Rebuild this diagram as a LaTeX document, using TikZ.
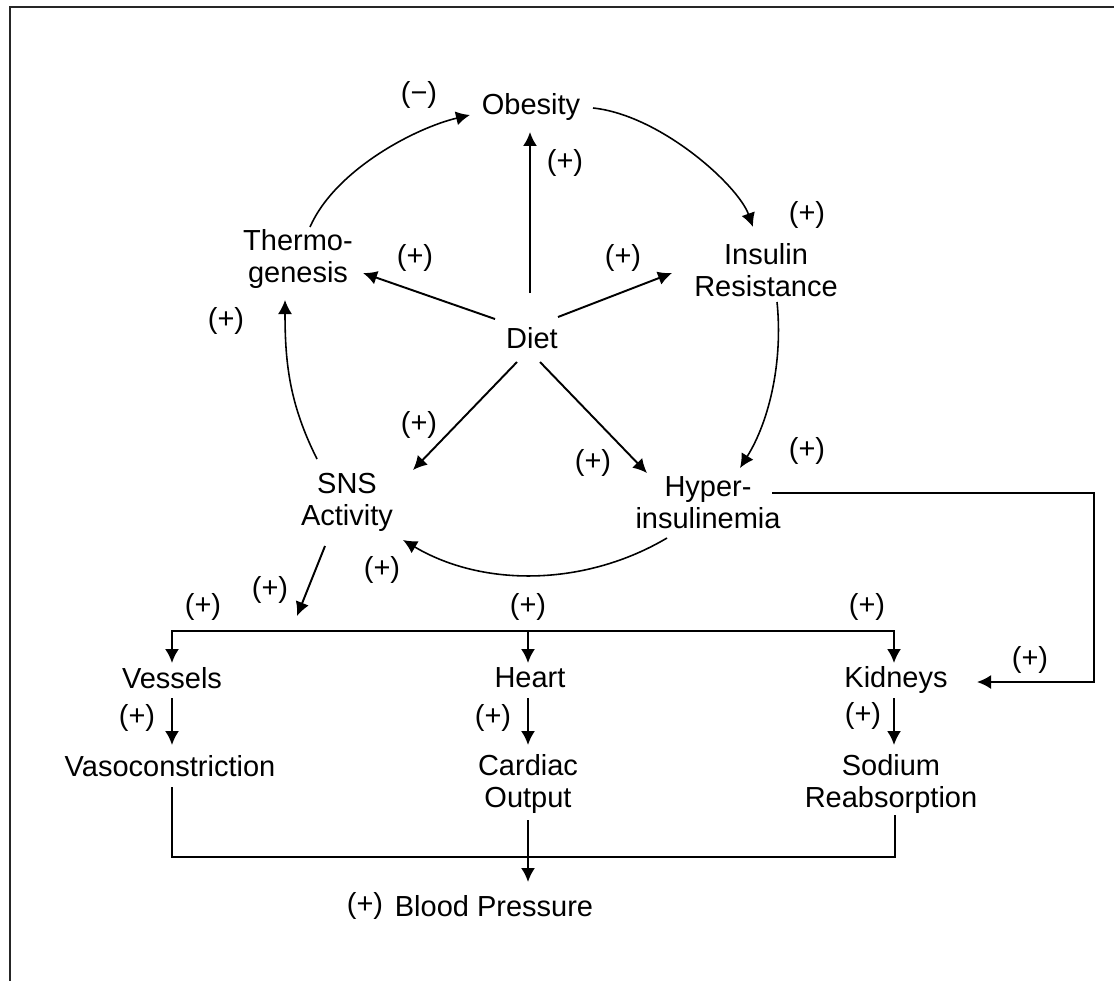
\documentclass[tikz,border=0pt]{standalone}
\usepackage{fontspec}
\setmainfont{Liberation Sans}
\usetikzlibrary{arrows.meta,calc}
\begin{document}
\begin{tikzpicture}[x=0.02cm,y=-0.02cm,
  every node/.style={font=\fontsize{16.5}{18.3}\selectfont, inner sep=0pt, align=center},
  conn/.style={line width=1.1pt},
  arr/.style={conn,-{Latex[length=0.28cm,width=0.28cm]}},
  curv/.style={line width=0.9pt,-{Latex[length=0.28cm,width=0.28cm]}}]
\useasboundingbox (0,0) rectangle (1114,980);
\begin{scope}
\clip (0,0) rectangle (1114,980);
\draw[line width=1.4pt, black!85] (10,7) rectangle (1200,1100);
\end{scope}
% main nodes
\node (obesity) at (531,107) {Obesity};
\node (thermo) at (298,259) {Thermo-\\genesis};
\node (insulin) at (766,270) {Insulin\\Resistance};
\node (diet) at (532,338) {Diet};
\node (sns) at (347,502) {SNS\\Activity};
\node (hyper) at (708,503) {Hyper-\\insulinemia};
\node (vessels) at (172,678) {Vessels};
\node (heart) at (530,678) {Heart};
\node (kidneys) at (896,680) {Kidneys};
\node (vaso) at (170,766) {Vasoconstriction};
\node (cardiac) at (528,784) {Cardiac\\Output};
\node (sodium) at (891,784) {Sodium\\Reabsorption};
\node (bp) at (494,906) {Blood Pressure};
% labels
\node (l1) at (419,95) {(−)};
\node (l2) at (565,163) {(+)};
\node (l3) at (415,258) {(+)};
\node (l4) at (623,258) {(+)};
\node (l5) at (807,215) {(+)};
\node (l6) at (226,321) {(+)};
\node (l7) at (419,425) {(+)};
\node (l8) at (593,463) {(+)};
\node (l9) at (807,451) {(+)};
\node (l10) at (382,570) {(+)};
\node (l11) at (270,590) {(+)};
\node (l12) at (203,607) {(+)};
\node (l13) at (528,607) {(+)};
\node (l14) at (867,607) {(+)};
\node (l15) at (1030,660) {(+)};
\node (l16) at (137,718) {(+)};
\node (l17) at (493,718) {(+)};
\node (l18) at (863,716) {(+)};
\node (l19) at (365,906) {(+)};
% coordinates
\coordinate (snstip) at (297,616);
\coordinate (bus) at (528,631);
\coordinate (kright) at (1094,682);
\coordinate (merge) at (528,857);
% diet arrows
\draw[arr] ([shift={(-2,-45)}]diet.center) -- ([shift={(-1,25)}]obesity.center);
\draw[arr] ([shift={(-37,-19)}]diet.center) -- ([shift={(65,14)}]thermo.center);
\draw[arr] ([shift={(26,-21)}]diet.center) -- ([shift={(-94,3)}]insulin.center);
\draw[arr] ([shift={(-15,24)}]diet.center) -- ([shift={(66,-32)}]sns.center);
\draw[arr] ([shift={(8,24)}]diet.center) -- ([shift={(-61,-30)}]hyper.center);
% loop
\draw[curv] ([shift={(12,-32)}]thermo.center) .. controls (335,170) and (415,128) .. ([shift={(-61,8)}]obesity.center);
\draw[curv] ([shift={(62,1)}]obesity.center) .. controls (660,115) and (738,185) .. ([shift={(-13,-43)}]insulin.center);
\draw[curv] ([shift={(11,32)}]insulin.center) .. controls (783,360) and (770,420) .. ([shift={(32,-35)}]hyper.center);
\draw[curv] ([shift={(-41,35)}]hyper.center) .. controls (586,586) and (484,588) .. ([shift={(56,38)}]sns.center);
\draw[curv] ([shift={(-30,-43)}]sns.center) .. controls (290,405) and (285,365) .. ([shift={(-13,41)}]thermo.center);
% SNS to bus
\draw[arr] ([shift={(-22,44)}]sns.center) -- (snstip);
% bus
\draw[arr] (bus) -| ([shift={(0,-15)}]vessels.center);
\draw[arr] (bus) -- ([shift={(-2,-15)}]heart.center);
\draw[arr] (bus) -| ([shift={(-2,-17)}]kidneys.center);
% organ effects
\draw[arr] ([shift={(0,20)}]vessels.center) -- ([shift={(2,-21)}]vaso.center);
\draw[arr] ([shift={(-2,20)}]heart.center) -- ([shift={(0,-39)}]cardiac.center);
\draw[arr] ([shift={(-2,18)}]kidneys.center) -- ([shift={(3,-39)}]sodium.center);
% hyperinsulinemia to kidneys
\draw[arr] ([shift={(64,-10)}]hyper.center) -| (kright) -- ([shift={(81,2)}]kidneys.center);
% merge to blood pressure
\draw[conn] ([shift={(2,21)}]vaso.center) |- (merge) -| ([shift={(4,31)}]sodium.center);
\draw[arr] ([shift={(0,36)}]cardiac.center) -- ([shift={(34,-24)}]bp.center);
\end{tikzpicture}
\end{document}
